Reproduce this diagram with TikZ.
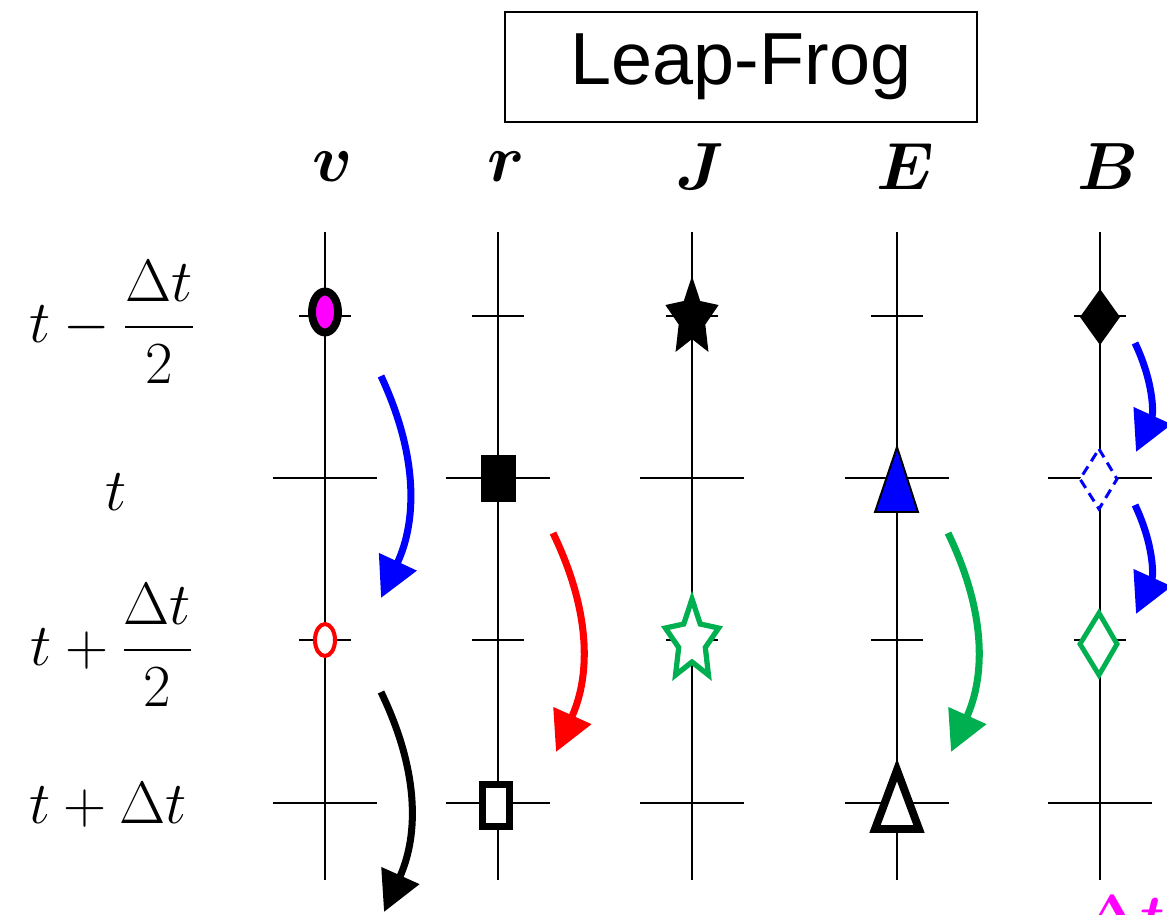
\RequirePackage{fix-cm}
\documentclass[tikz,border=0pt]{standalone}
\usepackage{amsmath, amssymb}
\usepackage{fontspec}
\newfontfamily\titlefont{Liberation Sans}
\usetikzlibrary{arrows.meta}

\definecolor{lfblue}{RGB}{0,0,255}
\definecolor{lfred}{RGB}{255,0,0}
\definecolor{lfgreen}{RGB}{0,176,80}
\definecolor{lfmag}{RGB}{255,0,255}

\tikzset{
  axis/.style={line width=1.2pt},
  hop/.style={line width=4pt, -{Triangle[length=0.8cm, width=0.8cm]}, bend left=25},
  head/.style={font=\fontsize{38}{44}\selectfont},
  rowlab/.style={font=\fontsize{34}{40}\selectfont},
  starpath/.style={insert path={plot[samples at={0,...,9}, variable=\k]
      ({-90+36*\k}:{28*(1-0.5*mod(\k,2))} and {42*(1-0.5*mod(\k,2))}) -- cycle}}
}

\begin{document}
\begin{tikzpicture}[x=0.02cm, y=-0.02cm]
  \useasboundingbox (0,0) rectangle (1167,914);
  % title box
  \node[draw, line width=1.2pt, minimum width=9.44cm, minimum height=2.2cm,
        font=\titlefont\fontsize{42}{50}\selectfont] (title) at (741,67) {Leap-Frog};
  % time axes, one per quantity
  \foreach \name/\x in {v/325, r/498, J/692, E/897, B/1100} {
    \draw[axis] (\x,232) -- (\x,880);
    \foreach \y in {316,640} \draw[axis] (\x-26,\y) -- (\x+26,\y);
    \foreach \y in {478,803} \draw[axis] (\x-52,\y) -- (\x+52,\y);
    \node[head] (h\name) at (\x+8,167) {$\boldsymbol{\name}$};
  }
  % row labels
  \node[rowlab] (row1) at (112,322) {$t-\dfrac{\Delta t}{2}$};
  \node[rowlab] (row2) at (116,492) {$t$};
  \node[rowlab] (row3) at (112,645) {$t+\dfrac{\Delta t}{2}$};
  \node[rowlab] (row4) at (108,805) {$t+\Delta t$};
  % v
  \draw[line width=4.5pt, fill=lfmag] (325,312) ellipse [x radius=13, y radius=20.5];
  \draw[line width=2.3pt, lfred, fill=white] (325,640) ellipse [x radius=10, y radius=16];
  % r
  \fill (481,455) rectangle (516,502);
  \draw[line width=4pt, fill=white] (482.5,784.5) rectangle (509.5,826.5);
  % J
  \fill[shift={(692,318)}] [starpath];
  \draw[shift={(692,641)}, lfgreen, line width=3pt, fill=white] [starpath];
  % E
  \draw[line width=1.1pt, fill=lfblue] (897,447) -- (918,512) -- (875,512) -- cycle;
  \draw[line width=4.5pt, fill=white] (897,770) -- (919,829) -- (875,829) -- cycle;
  % B
  \fill (1100,289) -- (1120,317) -- (1100,345) -- (1080,317) -- cycle;
  \draw[lfblue, line width=1.7pt, dash pattern=on 5.5pt off 3.5pt, fill=white]
    (1099,449) -- (1117,479) -- (1099,509) -- (1080,479) -- cycle;
  \draw[lfgreen, line width=2.8pt, fill=white]
    (1099,613) -- (1117,644) -- (1099,675) -- (1080,644) -- cycle;
  % update arrows
  \coordinate (vs1) at (381,376);  \coordinate (ve1) at (381,598);
  \coordinate (vs2) at (381,692);  \coordinate (ve2) at (384,912);
  \coordinate (rs)  at (553,533);  \coordinate (re)  at (556,752);
  \coordinate (es)  at (948,533);  \coordinate (ee)  at (951,752);
  \coordinate (bs1) at (1135,343); \coordinate (be1) at (1136,452);
  \coordinate (bs2) at (1135,505); \coordinate (be2) at (1136,614);
  \draw[hop, lfblue] (vs1) to (ve1);
  \draw[hop, black] (vs2) to (ve2);
  \draw[hop, lfred] (rs) to (re);
  \draw[hop, lfgreen] (es) to (ee);
  \draw[hop, lfblue] (bs1) to (be1);
  \draw[hop, lfblue] (bs2) to (be2);
  % cut-off label
  \node[anchor=north west, inner sep=0pt, text=lfmag, font=\fontsize{34}{38}\selectfont]
    (dtlab) at (1084,895) {$\boldsymbol{\Delta t}$};
\end{tikzpicture}
\end{document}
